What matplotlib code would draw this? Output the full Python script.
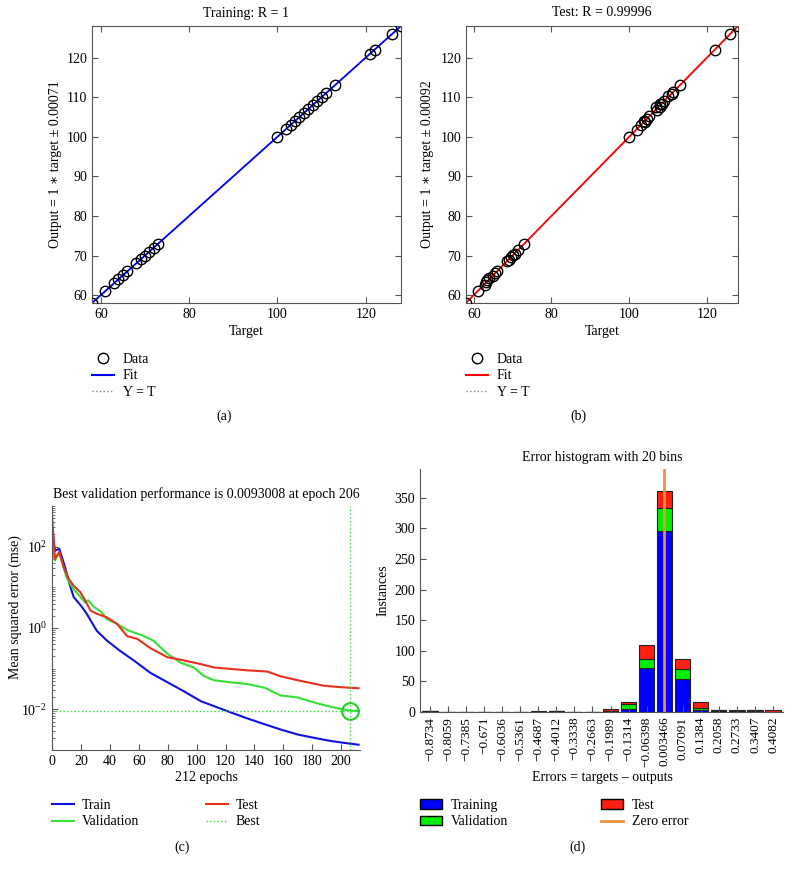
import numpy as np
import matplotlib.pyplot as plt
from matplotlib.lines import Line2D
from matplotlib.patches import Patch
from matplotlib.ticker import FixedLocator, LogLocator, NullFormatter

plt.rcParams['font.family'] = ['Liberation Serif', 'DejaVu Serif']
plt.rcParams['mathtext.fontset'] = 'stix'
plt.rcParams['font.size'] = 10

# --- regression data (target vs output) ---
train_target = [58, 61, 63, 64, 65, 66, 68, 69, 70, 71, 72, 73,
                100, 102, 103, 104, 105, 106, 107, 108, 109, 110, 111, 113,
                121, 122, 126, 128]
train_output = [58, 61, 63, 64, 65, 66, 68, 69, 70, 71, 72, 73,
                100, 102, 103, 104, 105, 106, 107, 108, 109, 110, 111, 113,
                121, 122, 126, 128]

test_target = [58, 61, 63, 63.2, 63.5, 64, 65, 65.5, 66, 68.5, 69, 69.5, 70,
               70.5, 71.5, 73, 100, 102, 103, 103.8, 104, 104.5, 105, 107,
               107.2, 107.8, 108, 108.5, 109, 110, 111, 111.2, 113, 122, 126, 128]
test_output = [58, 61, 62.5, 63.4, 63.9, 64.4, 64.9, 65.6, 66.1, 68.5, 68.8,
               69.6, 70.2, 70.5, 71.5, 73, 100, 101.8, 102.9, 104, 103.7, 104.4,
               105.2, 107.6, 106.8, 107.5, 108.3, 108.3, 109.1, 110.2, 110.7,
               111.2, 113.1, 122, 126, 128]

# --- training performance (mse per epoch) ---
train_ep = [0, 2, 5, 9, 12, 15, 20, 24, 31, 38, 47, 57, 68, 80, 91, 103, 112,
            124, 135, 147, 158, 170, 181, 193, 203, 212]
train_mse = [316, 79, 89, 31.6, 12.6, 5.75, 3.55, 2.24, 0.85, 0.49, 0.275,
             0.155, 0.079, 0.046, 0.028, 0.0158, 0.012, 0.0083, 0.006, 0.0043,
             0.0032, 0.0024, 0.002, 0.00166, 0.00148, 0.00135]

val_ep = [0, 2, 5, 10, 14, 20, 23, 25, 29, 34, 38, 45, 52, 63, 70, 80, 89, 98,
          105, 112, 124, 135, 147, 158, 170, 182, 193, 206, 212]
val_mse = [200, 45.7, 70.8, 17.8, 10, 5.6, 4.2, 4.8, 3.3, 2.5, 1.66, 1.26, 0.89,
           0.65, 0.49, 0.23, 0.14, 0.107, 0.066, 0.052, 0.046, 0.042, 0.034,
           0.022, 0.0195, 0.0145, 0.0115, 0.0093, 0.0091]

test_ep = [0, 2, 5, 8, 11.5, 15, 19.6, 23, 26.6, 31, 38, 45, 52, 59, 68, 80,
           89, 103, 112, 135, 149, 158, 172, 188, 200, 212]
test_mse = [631, 50, 74, 31.6, 16.2, 11, 7.6, 4.7, 2.7, 2.24, 1.82, 1.26, 0.63,
            0.54, 0.32, 0.19, 0.166, 0.129, 0.107, 0.091, 0.085, 0.065, 0.05,
            0.038, 0.035, 0.033]

best_epoch = 206
best_perf = 0.0093008
n_epochs = 212

# --- error histogram ---
bin_labels = ['\u22120.8734', '\u22120.8059', '\u22120.7385', '\u22120.671',
              '\u22120.6036', '\u22120.5361', '\u22120.4687', '\u22120.4012',
              '\u22120.3338', '\u22120.2663', '\u22120.1989', '\u22120.1314',
              '\u22120.06398', '0.003466', '0.07091', '0.1384',
              '0.2058', '0.2733', '0.3407', '0.4082']
bin_centers = [-0.8734, -0.8059, -0.7385, -0.671, -0.6036, -0.5361, -0.4687,
               -0.4012, -0.3338, -0.2663, -0.1989, -0.1314, -0.06398, 0.003466,
               0.07091, 0.1384, 0.2058, 0.2733, 0.3407, 0.4082]
hist_train = [1, 0, 0, 0, 0, 0, 0, 1, 0, 0, 1, 5, 72, 296, 54, 3, 1, 1, 2, 0]
hist_val = [0, 0, 0, 0, 0, 0, 0, 0, 0, 0, 1, 8, 14, 38, 16, 4, 3, 1, 1, 0]
hist_test = [0, 0, 0, 0, 0, 0, 2, 0, 0, 0, 3, 3, 23, 27, 16, 9, 0, 1, 1, 4]

W, H = 791, 873


def fx(px):
    return px / W


def fy(py):
    return 1 - py / H


def box(l, t, r, b):
    return [fx(l), fy(b), (r - l) / W, (b - t) / H]


fig = plt.figure(figsize=(7.91, 8.73), dpi=100)

spine_col = '#555555'
lab_fs = 10
tick_fs = 10
leg_kw = dict(loc='upper left', frameon=False, borderpad=0, borderaxespad=0,
              handletextpad=0.6, labelspacing=0.25, fontsize=lab_fs)


def regression(ax, t, o, col):
    ax.plot([58, 128], [58, 128], ':', color='gray', lw=1, zorder=1)
    ax.plot([58, 128], [58, 128], '-', color=col, lw=1.3, zorder=2)
    ax.plot(t, o, 'o', mfc='none', mec='black', ms=7.5, mew=1.0, zorder=3)
    ax.set_xlim(58, 128)
    ax.set_ylim(58, 128)
    ax.set_xticks([60, 80, 100, 120])
    ax.set_yticks([60, 70, 80, 90, 100, 110, 120])
    ax.tick_params(direction='in', top=True, right=True, length=4,
                   labelsize=tick_fs, color=spine_col)
    for s in ax.spines.values():
        s.set_color(spine_col)


# (a) training regression
ax1 = fig.add_axes(box(92, 26, 401, 303))
regression(ax1, train_target, train_output, 'blue')
fig.text(fx(246), fy(13), 'Training: R = 1', ha='center', va='center', fontsize=lab_fs)
fig.text(fx(246), fy(332), 'Target', ha='center', va='center', fontsize=lab_fs)
fig.text(fx(55), fy(164), 'Output = 1 \u2217 target \u00b1 0.00071', rotation=90,
         ha='center', va='center', fontsize=lab_fs)

# (b) test regression
ax2 = fig.add_axes(box(466, 26, 738, 303))
regression(ax2, test_target, test_output, 'red')
fig.text(fx(602), fy(13), 'Test: R = 0.99996', ha='center', va='center', fontsize=lab_fs)
fig.text(fx(602), fy(332), 'Target', ha='center', va='center', fontsize=lab_fs)
fig.text(fx(428), fy(164), 'Output = 1 \u2217 target \u00b1 0.00092', rotation=90,
         ha='center', va='center', fontsize=lab_fs)

for x0, col in [(92, 'blue'), (466, 'red')]:
    hs = [Line2D([], [], marker='o', ls='none', mfc='none', mec='black', ms=7.5),
          Line2D([], [], color=col, lw=1.5),
          Line2D([], [], color='gray', ls=':', lw=1)]
    fig.legend(handles=hs, labels=['Data', 'Fit', 'Y = T'],
               bbox_to_anchor=(fx(x0), fy(353)), handlelength=1.6, **leg_kw)

fig.text(fx(224), fy(416), '(a)', ha='center', va='center', fontsize=lab_fs)
fig.text(fx(578), fy(416), '(b)', ha='center', va='center', fontsize=lab_fs)

# (c) performance
ax3 = fig.add_axes(box(52, 506, 360, 750))
ax3.semilogy(train_ep, train_mse, color='#1010e0', lw=1.5)
ax3.semilogy(val_ep, val_mse, color='#33e033', lw=1.5)
ax3.semilogy(test_ep, test_mse, color='#e8301e', lw=1.5)
ax3.axhline(best_perf, color='#33e033', ls=':', lw=1)
ax3.axvline(best_epoch, color='#33e033', ls=':', lw=1)
ax3.plot([best_epoch], [best_perf], 'o', mfc='none', mec='#22cc22', ms=12, mew=1.5)
ax3.set_xlim(0, 213)
ax3.set_ylim(1e-3, 1e3)
ax3.set_xticks(np.arange(0, 201, 20))
ax3.yaxis.set_major_locator(FixedLocator([1e-2, 1e0, 1e2]))
ax3.yaxis.set_minor_locator(LogLocator(base=10, subs=np.arange(1, 10), numticks=20))
ax3.yaxis.set_minor_formatter(NullFormatter())
ax3.tick_params(direction='in', length=4, labelsize=tick_fs, color=spine_col)
ax3.tick_params(which='minor', direction='in', length=2, color=spine_col)
ax3.spines['top'].set_visible(False)
ax3.spines['right'].set_visible(False)
for s in ['left', 'bottom']:
    ax3.spines[s].set_color(spine_col)
fig.text(fx(206), fy(494), 'Best validation performance is 0.0093008 at epoch 206',
         ha='center', va='center', fontsize=lab_fs)
fig.text(fx(206), fy(777), '%d epochs' % n_epochs, ha='center', va='center', fontsize=lab_fs)
fig.text(fx(15), fy(607), 'Mean squared error (mse)', rotation=90,
         ha='center', va='center', fontsize=lab_fs)

perf_cols = [
    (52, [Line2D([], [], color='#1010e0', lw=1.5), Line2D([], [], color='#33e033', lw=1.5)],
     ['Train', 'Validation']),
    (206, [Line2D([], [], color='#e8301e', lw=1.5), Line2D([], [], color='#33e033', ls=':', lw=1)],
     ['Test', 'Best']),
]
for x0, hs, labs in perf_cols:
    fig.legend(handles=hs, labels=labs, bbox_to_anchor=(fx(x0), fy(799)),
               handlelength=1.55, **leg_kw)
fig.text(fx(182), fy(847), '(c)', ha='center', va='center', fontsize=lab_fs)

# (d) error histogram
ax4 = fig.add_axes(box(420, 469, 783, 712))
pos = np.arange(len(bin_labels))
tr = np.array(hist_train)
va = np.array(hist_val)
te = np.array(hist_test)
ax4.bar(pos, tr, 0.84, color='blue', edgecolor='#222222', lw=0.8)
ax4.bar(pos, va, 0.84, bottom=tr, color='#00ee00', edgecolor='#222222', lw=0.8)
ax4.bar(pos, te, 0.84, bottom=tr + va, color='#ff2010', edgecolor='#222222', lw=0.8)
zero_pos = np.interp(0, bin_centers, pos)
ax4.axvline(zero_pos, color='#ee9040', lw=2)
ax4.set_xlim(-0.55, len(pos) - 0.45)
ax4.set_ylim(0, 1.1 * (tr + va + te).max())
ax4.set_xticks(pos)
ax4.set_xticklabels(bin_labels, rotation=90)
ax4.set_yticks(np.arange(0, 351, 50))
ax4.tick_params(direction='in', length=4, labelsize=tick_fs, color=spine_col)
ax4.tick_params(axis='x', labelsize=9.5)
ax4.spines['top'].set_visible(False)
ax4.spines['right'].set_visible(False)
for s in ['left', 'bottom']:
    ax4.spines[s].set_color(spine_col)
fig.text(fx(602), fy(457), 'Error histogram with 20 bins', ha='center', va='center',
         fontsize=lab_fs)
fig.text(fx(602), fy(778), 'Errors = targets \u2013 outputs', ha='center', va='center',
         fontsize=lab_fs)
fig.text(fx(383), fy(590), 'Instances', rotation=90, ha='center', va='center',
         fontsize=lab_fs)

hist_cols = [
    (420, [Patch(facecolor='blue', edgecolor='black'), Patch(facecolor='#00ee00', edgecolor='black')],
     ['Training', 'Validation']),
    (601, [Patch(facecolor='#ff2010', edgecolor='black'), Line2D([], [], color='#ee9040', lw=2)],
     ['Test', 'Zero error']),
]
for x0, hs, labs in hist_cols:
    fig.legend(handles=hs, labels=labs, bbox_to_anchor=(fx(x0), fy(799)),
               handlelength=1.6, **leg_kw)
fig.text(fx(578), fy(847), '(d)', ha='center', va='center', fontsize=lab_fs)

fig.savefig('out.png', dpi=100)
